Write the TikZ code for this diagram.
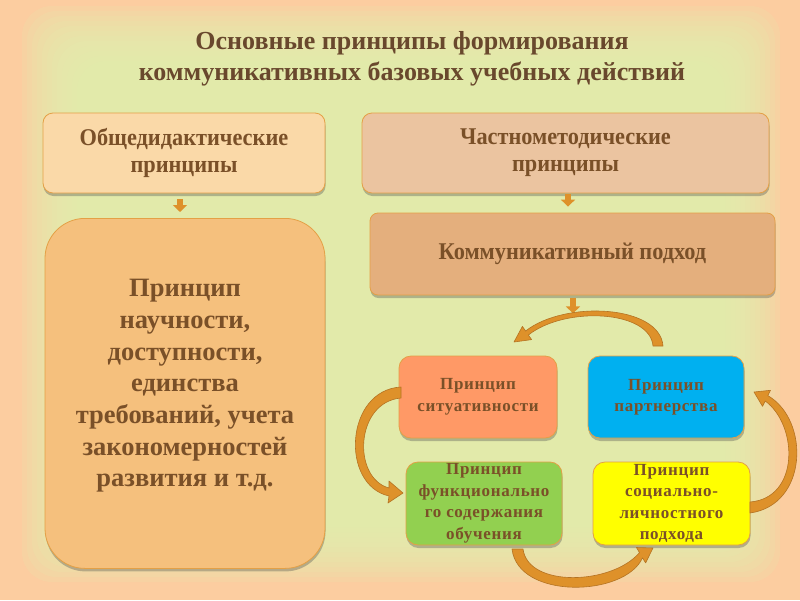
\documentclass[tikz,border=0pt]{standalone}
\usepackage{fontspec}
\setmainfont{Liberation Serif}
\newfontfamily\condfont[FakeStretch=0.93]{Liberation Serif}
\usetikzlibrary{shadows,arrows.meta,calc}
\definecolor{bgpeach}{RGB}{252,205,160}
\definecolor{bggreen}{RGB}{226,241,176}
\definecolor{txtbrown}{RGB}{122,80,40}
\definecolor{titlebrown}{RGB}{105,72,45}
\definecolor{arrowc}{RGB}{222,145,42}
\definecolor{arrowd}{RGB}{180,115,35}
\definecolor{fOne}{RGB}{250,217,168}
\definecolor{fTwo}{RGB}{235,196,160}
\definecolor{fThree}{RGB}{245,192,125}
\definecolor{fFour}{RGB}{228,175,125}
\definecolor{fSit}{RGB}{255,153,102}
\definecolor{fPart}{RGB}{0,176,240}
\definecolor{fFunc}{RGB}{146,208,80}
\definecolor{fSoc}{RGB}{255,255,0}
\definecolor{bord}{RGB}{228,160,70}
\begin{document}
\begin{tikzpicture}[x=1pt,y=-1pt,
  bx/.style={draw=bord, line width=0.8pt, rounded corners=10, inner sep=0pt, align=center, text=txtbrown,
    drop shadow={shadow xshift=0.5pt, shadow yshift=-3pt, opacity=0.35, fill=black!70}},
  bigtxt/.style={font=\condfont\bfseries\fontsize{24}{27}\selectfont},
  smalltxt/.style={font=\bfseries\fontsize{17}{21.5}\selectfont\addfontfeature{LetterSpace=4}},
  smallarr/.style={line width=6pt, draw=arrowc, -{Triangle[width=14pt,length=7pt]}},
  curvarr/.style={fill=arrowc, draw=arrowd, line width=0.6pt, line join=round}
]
\useasboundingbox (0,0) rectangle (800,600);
\fill[bgpeach] (0,0) rectangle (800,600);
\foreach \i in {0,...,11}
  \fill[bggreen, opacity=0.16, rounded corners=30] ({22+5*\i},{6+5*\i}) rectangle ({780-5*\i},{582-5*\i});

% title
\node[text=titlebrown, align=center, font=\bfseries\fontsize{26}{31}\selectfont] (title) at (412,59)
  {Основные принципы формирования\\коммуникативных базовых учебных действий};

% boxes
\node[bx, fill=fOne, minimum width=282, minimum height=80, bigtxt] (b1) at (184,153) {Общедидактические\\принципы};
\node[bx, fill=fTwo, minimum width=407, minimum height=80, bigtxt] (b2) at (565.5,153) {Частнометодические\\принципы};
\node[bx, fill=fThree, rounded corners=40, minimum width=280, minimum height=350, anchor=north] (b3) at (185,218) {};
\node[text=txtbrown, align=center, font=\bfseries\fontsize{26.5}{31.7}\selectfont] (b3t) at (185,386)
  {Принцип\\научности,\\доступности,\\единства\\требований, учета\\закономерностей\\развития и т.д.};
\node[bx, fill=fFour, rounded corners=8, minimum width=405, minimum height=82, bigtxt] (b4) at (572.5,254) {Коммуникативный подход};

\node[bx, fill=fSit, rounded corners=12, minimum width=158, minimum height=82, smalltxt] (sit) at (478,397) {Принцип\\ситуативности};
\node[bx, fill=fPart, rounded corners=12, minimum width=156, minimum height=82, smalltxt] (part) at (666,397) {Принцип\\партнерства};
\node[bx, fill=fFunc, rounded corners=12, minimum width=156, minimum height=83, smalltxt] (func) at (484,503.5) {Принцип\\функционально\\го содержания\\обучения};
\node[bx, fill=fSoc, rounded corners=12, minimum width=157, minimum height=83, smalltxt] (soc) at (671.5,503.5) {Принцип\\социально-\\личностного\\подхода};

% small arrows
\draw[smallarr] ($(b1.south)+(-4,6)$) -- ($(b3.north)+(-5,-6)$);
\draw[smallarr] ($(b2.south)+(2.5,1)$) -- ($(b4.north)+(-4.5,-6)$);
\draw[smallarr] ($(b4.south)+(0.5,3)$) -- ($(b4.south)+(0.5,18)$);

% curved arrows
% top
\draw[curvarr] (663,346) .. controls (660,305) and (565,300) .. (525.6,331) -- (522.4,326.4) -- (514,342)
  -- (531.6,339.6) -- (528.4,335) .. controls (565,306) and (650,310) .. (653,346) -- cycle;
% left
\draw[curvarr] (401,387) .. controls (345,390) and (340,485) .. (389,496) -- (388,503) -- (403,493)
  -- (389,481) -- (389,488) .. controls (352,478) and (355,402) .. (401,398) -- cycle;
% bottom
\draw[curvarr] (512,549) .. controls (518,600) and (625,597) .. (642.5,557.8) -- (645.6,562.9) -- (653,548)
  -- (636.4,547.5) -- (639.5,552.6) .. controls (612,585) and (528,588) .. (523,549) -- cycle;
% right
\draw[curvarr] (750,513) .. controls (808,505) and (810,420) .. (767.8,395.6) -- (770.5,390.3) -- (754,392)
  -- (762.5,406.3) -- (765.2,401) .. controls (798,425) and (800,498) .. (750,502) -- cycle;
\end{tikzpicture}
\end{document}
